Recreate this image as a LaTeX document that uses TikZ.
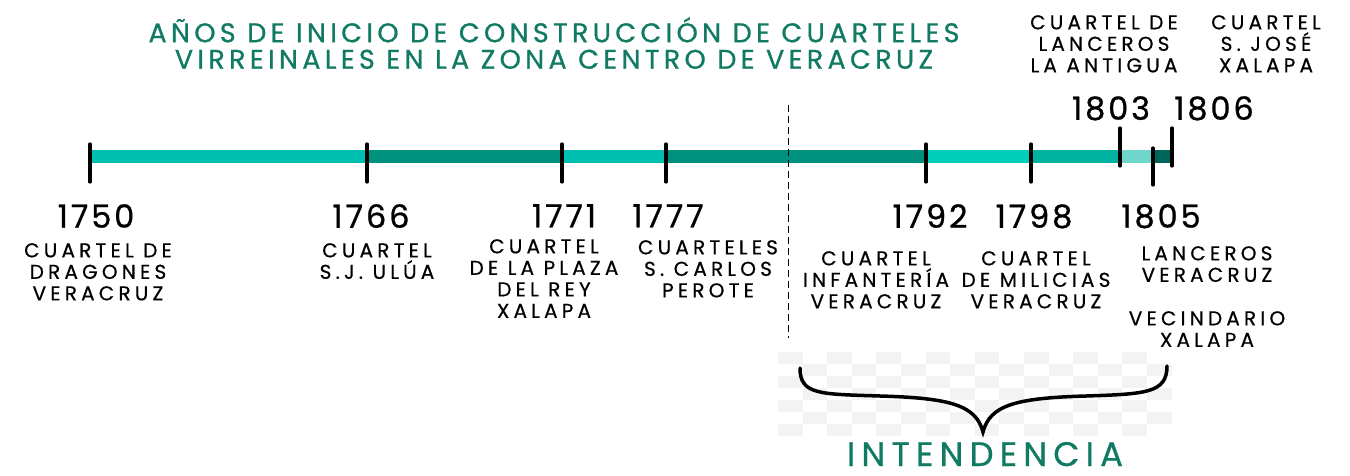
\documentclass[tikz,border=0pt]{standalone}
\usepackage{fontspec}
\setmainfont{Poppins}
\newfontfamily\labfont[LetterSpace=21,FakeBold=0.6]{Poppins}
\newfontfamily\yearfont[LetterSpace=9,FakeBold=0.8]{Poppins}
\newfontfamily\titlefont[LetterSpace=16,FakeBold=0.8]{Poppins}
\newfontfamily\intfont[LetterSpace=18,FakeBold=0.6]{Poppins}
\definecolor{tealA}{HTML}{00BFB0}
\definecolor{tealB}{HTML}{00917F}
\definecolor{tealC}{HTML}{00CDBA}
\definecolor{tealD}{HTML}{00B3A1}
\definecolor{tealE}{HTML}{6ED6CB}
\definecolor{tealF}{HTML}{00665B}
\definecolor{titlegreen}{HTML}{117A63}
\definecolor{checker}{HTML}{F3F3F3}
\begin{document}
\begin{tikzpicture}[x=1pt,y=-1pt,
  tick/.style={line width=3.2pt,line cap=round,black},
  lab/.style={inner sep=0pt,anchor=north,align=center,font=\labfont\fontsize{20}{21.5}\selectfont},
  yr/.style={inner sep=0pt,anchor=north,font=\yearfont\fontsize{32}{34}\selectfont},
  ttl/.style={inner sep=0pt,anchor=north,align=center,text=titlegreen,font=\titlefont\fontsize{27}{26.5}\selectfont},
  brace/.style={line width=3.5pt,line cap=round,black}]
\useasboundingbox (0,0) rectangle (1350,475);
% checkerboard
\foreach \i in {0,...,15}{
  \foreach \j in {0,...,6}{
    \pgfmathtruncatemacro{\pp}{mod(\i+\j,2)}
    \ifnum\pp=0
      \fill[checker] ({778+\i*24.6},{352+\j*12}) rectangle ++(24.6,12);
    \fi
  }
}
% title
\node[ttl] (title) at (554,17) {AÑOS DE INICIO DE CONSTRUCCIÓN DE CUARTELES\\VIRREINALES EN LA ZONA CENTRO DE VERACRUZ};
% bar
\fill[tealA] (90,150) rectangle (367,163);
\fill[tealB] (367,150) rectangle (562,163);
\fill[tealA] (562,150) rectangle (666,163);
\fill[tealB] (666,150) rectangle (926,163);
\fill[tealC] (926,150) rectangle (1031,163);
\fill[tealD] (1031,150) rectangle (1120,163);
\fill[tealE] (1120,150) rectangle (1153,163);
\fill[tealF] (1153,150) rectangle (1172,163);
% dashed separator
\coordinate (dtop) at (788,105);
\coordinate (dbot) at (788,338);
\draw[line width=1pt,dash pattern=on 7pt off 4pt] (dtop) -- (dbot);
% ticks
\foreach \x in {90,367,562,666,926,1031}{\draw[tick] (\x,144) -- (\x,182);}
\draw[tick] (1120,128) -- (1120,166);
\draw[tick] (1153,148) -- (1153,185);
\draw[tick] (1172,128) -- (1172,166);
% years
\node[yr] (y1750) at (96,204) {1750};
\node[yr] (y1766) at (371,204) {1766};
\node[yr] (y1771) at (564,204) {1771};
\node[yr] (y1777) at (668,204) {1777};
\node[yr] (y1792) at (930,204) {1792};
\node[yr] (y1798) at (1034,204) {1798};
\node[yr] (y1805) at (1161,204) {1805};
\node[yr] (y1803) at (1111,96) {1803};
\node[yr] (y1806) at (1214,96) {1806};
% labels
\node[lab] (l1750) at (98,243) {CUARTEL DE\\DRAGONES\\VERACRUZ};
\node[lab] (l1766) at (377,243) {CUARTEL\\S.J. ULÚA};
\node[lab] (l1771) at (544,239) {CUARTEL\\DE LA PLAZA\\DEL REY\\XALAPA};
\node[lab] (l1777) at (708,240) {CUARTELES\\S. CARLOS\\PEROTE};
\node[lab] (l1792) at (876,251) {CUARTEL\\INFANTERÍA\\VERACRUZ};
\node[lab] (l1798) at (1036,251) {CUARTEL\\DE MILICIAS\\VERACRUZ};
\node[lab] (l1805a) at (1207,246) {LANCEROS\\VERACRUZ};
\node[lab] (l1805b) at (1207,311) {VECINDARIO\\XALAPA};
\node[lab] (l1803) at (1104,15) {CUARTEL DE\\LANCEROS\\LA ANTIGUA};
\node[lab] (l1806) at (1266,15) {CUARTEL\\S. JOSÉ\\XALAPA};
% brace
\coordinate (bl) at (800,368);
\coordinate (bm) at (983,432);
\coordinate (br) at (1167,366);
\draw[brace] (bl) .. controls (800,395) and (820,394) .. (880,396)
  .. controls (950,398) and (976,405) .. (bm)
  .. controls (990,405) and (1016,398) .. (1086,396)
  .. controls (1146,394) and (1167,393) .. (br);
\node[inner sep=0pt,anchor=base,text=titlegreen,font=\intfont\fontsize{34}{35}\selectfont] (intend) at (985,466) {INTENDENCIA};
\end{tikzpicture}
\end{document}
